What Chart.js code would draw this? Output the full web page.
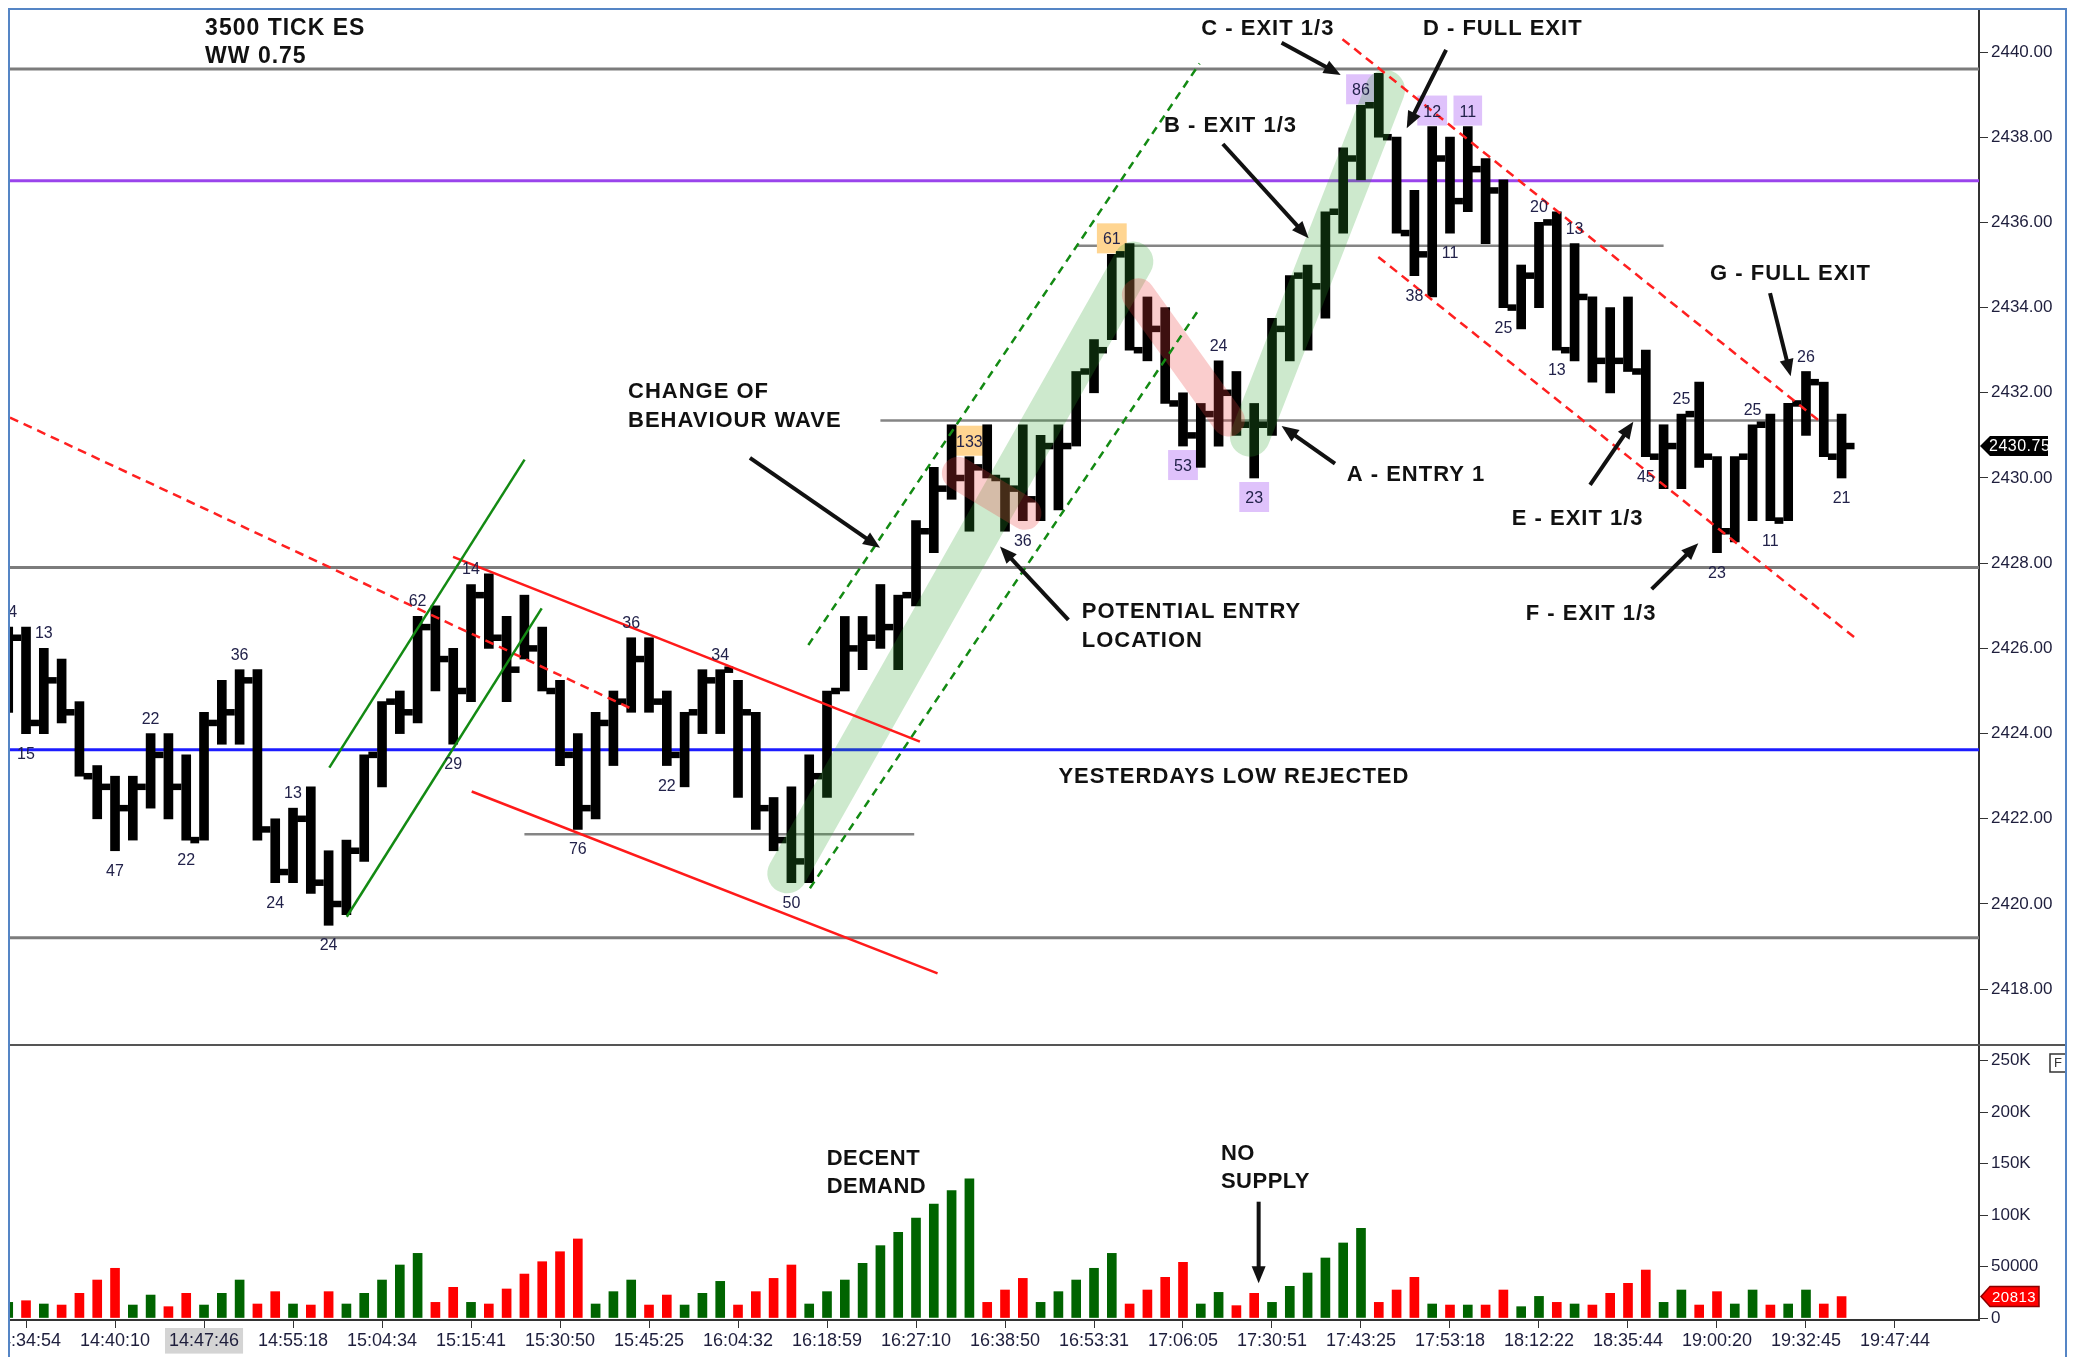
<!DOCTYPE html>
<html>
<head>
<meta charset="utf-8">
<script src="https://cdn.jsdelivr.net/npm/chart.js@4.4.1/dist/chart.umd.min.js"></script>
<style>
html,body{margin:0;padding:0;background:#fff;}
#wrap{width:2082px;height:1357px;position:relative;}
canvas{display:block;}
</style>
</head>
<body>
<div id="wrap"><canvas id="c" width="2082" height="1357"></canvas></div>
<script>
// ---------------- DATA ----------------
const firstBar = -1; // index of the first (partly hidden) bar
const highs = [
 2426.5,2426.5,2426.0,2425.75,2424.75,2423.25,2423.0,2423.0,2424.0,2424.0,
 2423.5,2424.5,2425.25,2425.5,2425.5,2422.0,2422.25,2422.75,2421.25,2421.5,
 2423.5,2424.75,2425.0,2426.75,2427.0,2426.0,2427.5,2427.75,2426.75,2427.25,
 2426.5,2425.25,2424.0,2424.5,2425.0,2426.25,2426.25,2425.0,2424.5,2425.5,
 2425.5,2425.25,2424.5,2422.5,2422.75,2423.5,2425.0,2426.75,2426.75,2427.5,
 2427.25,2429.0,2430.25,2431.25,2430.5,2431.25,2430.0,2431.25,2431.0,2431.25,
 2432.5,2433.25,2435.25,2435.5,2434.25,2434.0,2432.0,2431.75,2432.75,2432.5,
 2431.75,2433.75,2434.75,2435.0,2436.25,2437.75,2438.75,2439.5,2438.0,2436.75,
 2438.25,2438.0,2438.25,2437.5,2437.0,2435.0,2436.0,2436.25,2435.5,2434.25,
 2434.0,2434.25,2433.0,2431.25,2431.5,2432.25,2430.5,2430.5,2431.25,2431.5,
 2431.75,2432.5,2432.25,2431.5];
const lows = [
 2424.5,2424.0,2424.0,2424.25,2423.0,2422.0,2421.25,2421.5,2422.25,2422.0,
 2421.5,2421.5,2423.75,2423.75,2421.5,2420.5,2420.5,2420.25,2419.5,2419.75,
 2421.0,2422.75,2424.0,2424.25,2425.0,2423.75,2424.75,2426.0,2424.75,2425.75,
 2425.0,2423.25,2421.75,2422.0,2423.25,2424.5,2424.5,2423.25,2422.75,2424.0,
 2424.0,2422.5,2421.75,2421.25,2420.5,2420.5,2422.5,2425.0,2425.5,2426.0,
 2425.5,2427.0,2428.25,2429.5,2428.75,2430.0,2428.75,2429.0,2429.0,2429.25,
 2430.75,2432.0,2433.25,2433.0,2432.75,2431.75,2430.75,2430.25,2430.75,2431.0,
 2430.0,2431.0,2432.75,2433.0,2433.75,2435.75,2437.0,2438.0,2435.75,2434.75,
 2434.25,2435.75,2436.25,2435.5,2434.0,2433.5,2434.0,2433.0,2432.75,2432.25,
 2432.0,2432.5,2430.5,2429.75,2429.75,2430.25,2428.25,2428.5,2429.0,2429.0,
 2429.0,2431.0,2430.5,2430.0];
const closes = [
 2426.25,2424.25,2425.25,2424.5,2423.0,2422.75,2422.25,2422.75,2423.5,2422.75,
 2421.5,2424.25,2424.5,2425.25,2421.75,2420.75,2422.0,2420.5,2420.0,2421.25,
 2423.5,2424.75,2424.5,2426.5,2425.75,2425.0,2427.25,2426.25,2425.5,2426.0,
 2425.0,2423.5,2422.25,2424.25,2424.75,2425.75,2424.75,2423.5,2424.5,2425.25,
 2425.5,2424.5,2422.25,2421.5,2421.0,2423.0,2425.0,2426.0,2426.25,2426.5,
 2427.25,2428.75,2429.75,2430.0,2430.25,2430.0,2429.75,2429.5,2430.75,2430.75,
 2432.5,2433.0,2435.25,2433.0,2433.5,2431.75,2431.0,2431.5,2432.0,2431.25,
 2431.25,2433.5,2434.75,2434.5,2436.25,2437.5,2438.75,2438.0,2435.75,2435.25,
 2437.5,2436.5,2437.25,2436.75,2434.0,2434.75,2436.0,2433.0,2434.25,2432.75,
 2432.75,2432.5,2430.5,2430.75,2431.5,2430.5,2428.75,2430.5,2431.25,2429.0,
 2431.75,2432.25,2430.5,2430.75];
const volumes = [
 15200,16800,13600,12600,24000,36900,48300,12600,22300,11000,
 24000,12600,24000,36900,13600,25600,13600,12600,25600,13600,
 24000,36900,51500,62800,15200,29800,15200,13600,28200,42700,
 54700,64400,76800,13600,25600,36900,12600,22300,12600,24000,
 35600,12600,25600,38500,51500,13600,25600,36900,53100,70300,
 83200,97200,110800,123700,135100,15200,27200,38500,15200,25600,
 36900,48300,62800,13600,27200,39500,54100,13600,24900,12000,
 24000,15200,30800,43700,58300,72900,87100,15200,27200,39500,
 13600,12600,12600,12600,27200,11000,21000,15200,13600,12600,
 24000,33700,46600,15200,27200,12600,25600,13600,27200,12600,
 13600,27200,13600,20813];
const volUp = [
 1,0,1,0,0,0,0,1,1,0,
 0,1,1,1,0,0,1,0,0,1,
 1,1,1,1,0,0,1,0,0,0,
 0,0,0,1,1,1,0,0,1,1,
 1,0,0,0,0,1,1,1,1,1,
 1,1,1,1,1,0,0,0,1,1,
 1,1,1,0,0,0,0,1,1,0,
 0,1,1,1,1,1,1,0,0,0,
 1,0,1,0,0,1,1,0,1,0,
 0,0,0,1,1,0,0,1,1,0,
 1,1,0,0];
const timeLabels = ["14:34:54","14:40:10","14:47:46","14:55:18","15:04:34","15:15:41","15:30:50","15:45:25",
 "16:04:32","16:18:59","16:27:10","16:38:50","16:53:31","17:06:05","17:30:51","17:43:25","17:53:18",
 "18:12:22","18:35:44","19:00:20","19:32:45","19:47:44"];
const barsPerTimeTick = 5;
const priceTicks = [2418,2420,2422,2424,2426,2428,2430,2432,2434,2436,2438,2440];
const volumeTicks = [0,50000,100000,150000,200000,250000];
const lastPrice = 2430.75;
const lastVolume = 20813;

// numbers printed above (H) / below (L) some bars
const barLabelBar  = [-1,0,1,5,7,9,12,14,15,17,22,24,25,31,34,36,39,43,53,56,61,65,67,69,75,78,79,80,81,83,85,86,87,91,93,95,97,98,100,102];
const barLabelText = ['24','15','13','47','22','22','36','24','13','24','62','29','14','76','36','22','34','50','133','36','61','53','24','23','86','38','12','11','11','25','20','13','13','45','25','23','25','11','26','21'];
const barLabelSide = ['H','L','H','L','H','L','H','L','H','L','H','L','H','L','H','L','H','L','H','L','H','L','H','L','H','L','H','L','H','L','H','L','H','L','H','L','H','L','H','L'];
const barLabelMark = ['','','','','','','','','','','','','','','','','','','o','','o','p','','p','p','','p','','p','','','','','','','','','','',''];

// horizontal levels (price)
const levelPrices = [2439.6, 2436.98, 2427.9, 2423.62, 2419.21];
const levelKinds  = ['gray','purple','gray','blue','gray'];
const segLevelPrice = [2435.45, 2431.35, 2421.64];
const segLevelFrom  = [59, 48, 28];
const segLevelTo    = [92, 101.8, 49.9];

// ---------------- ANNOTATIONS (in data units) ----------------
const trendLines = [
 {x1:-0.9,  y1:2431.42, x2:33.93,  y2:2424.6,  kind:'redDash'},
 {x1:73.96, y1:2440.3,  x2:100.69, y2:2431.36, kind:'redDash'},
 {x1:75.97, y1:2435.19, x2:102.84, y2:2426.22, kind:'redDash'},
 {x1:23.99, y1:2428.15, x2:50.22,  y2:2423.81, kind:'red'},
 {x1:25.04, y1:2422.64, x2:51.21,  y2:2418.37, kind:'red'},
 {x1:17.04, y1:2423.2,  x2:28.01,  y2:2430.43, kind:'green'},
 {x1:18.02, y1:2419.7,  x2:28.97,  y2:2426.94, kind:'green'},
 {x1:43.95, y1:2426.08, x2:65.93,  y2:2439.73, kind:'greenDash'},
 {x1:44.04, y1:2420.37, x2:65.93,  y2:2433.98, kind:'greenDash'}
];
const bands = [
 {x1:42.77, y1:2420.72, x2:62.21, y2:2435.08, kind:'g'},
 {x1:68.76, y1:2430.97, x2:76.35, y2:2439.11, kind:'g'},
 {x1:52.38, y1:2430.11, x2:56.12, y2:2429.17, kind:'r'},
 {x1:62.49, y1:2434.3,  x2:67.55, y2:2431.36, kind:'r'}
];
const notes = [
 {t:'3500 TICK ES', x:10.06, y:2440.40, size:23},
 {t:'WW 0.75', x:10.06, y:2439.74, size:23},
 {t:'C - EXIT 1/3', x:66.03, y:2440.40, size:22},
 {t:'D - FULL EXIT', x:78.48, y:2440.40, size:22},
 {t:'B - EXIT 1/3', x:63.93, y:2438.13, size:22},
 {t:'CHANGE OF', x:33.82, y:2431.88, size:22},
 {t:'BEHAVIOUR WAVE', x:33.82, y:2431.20, size:22},
 {t:'POTENTIAL ENTRY', x:59.31, y:2426.71, size:22},
 {t:'LOCATION', x:59.31, y:2426.04, size:22},
 {t:'A - ENTRY 1', x:74.2, y:2429.94, size:22},
 {t:'E - EXIT 1/3', x:83.47, y:2428.90, size:22},
 {t:'F - EXIT 1/3', x:84.26, y:2426.67, size:22},
 {t:'G - FULL EXIT', x:94.61, y:2434.65, size:22},
 {t:'YESTERDAYS LOW REJECTED', x:58.0, y:2422.84, size:22}
];
const volNotes = [
 {t:'DECENT', x:44.98, v:148700},
 {t:'DEMAND', x:44.98, v:121500},
 {t:'NO', x:67.13, v:153500},
 {t:'SUPPLY', x:67.13, v:126300}
];
const arrows = [
 {x1:70.54, y1:2440.22, x2:73.86, y2:2439.46},
 {x1:79.78, y1:2440.05, x2:77.57, y2:2438.21},
 {x1:67.24, y1:2437.84, x2:72.06, y2:2435.63},
 {x1:40.67, y1:2430.47, x2:47.98, y2:2428.36},
 {x1:58.56, y1:2426.67, x2:54.72, y2:2428.39},
 {x1:73.54, y1:2430.34, x2:70.54, y2:2431.22},
 {x1:87.87, y1:2429.84, x2:90.30, y2:2431.32},
 {x1:91.33, y1:2427.39, x2:93.95, y2:2428.47},
 {x1:97.98, y1:2434.34, x2:99.14, y2:2432.39}
];
const volArrows = [ {x1:69.25, v1:113000, x2:69.25, v2:33700} ];

// ---------------- STYLES ----------------
const FONT = 'Arial, "Liberation Sans", sans-serif';
const levelStyle = {
 gray:{color:'#7c7c7c', width:3}, purple:{color:'#9a44ec', width:3}, blue:{color:'#1c1cff', width:3}
};
const lineStyle = {
 redDash:{color:'#ff2020', width:2.5, dash:[9,6]},
 red:{color:'#ff1a1a', width:2.5, dash:[]},
 green:{color:'#138a13', width:2.5, dash:[]},
 greenDash:{color:'#138a13', width:2.5, dash:[8,6]}
};
const bandStyle = { g:{color:'rgba(46,162,46,0.24)', width:40}, r:{color:'rgba(235,60,60,0.26)', width:33} };
const markColor = { o:'#ffd591', p:'#dfc2fb' };

// ---------------- DATASETS ----------------
const barX = highs.map((_, i) => i + firstBar);
const rangeData = barX.map((k, i) => ({x:k, y:[lows[i], highs[i]]}));
const closeTickOffset = 0.48; // close tick sits to the right of the bar
const closeData = barX.map((k, i) => ({x:k + closeTickOffset, y:closes[i]}));
const volData = barX.map((k, i) => ({x:k, y:volumes[i]}));

function labelGeom(ctx, xs, ys, j) {
  const k = barLabelBar[j], i = k - firstBar;
  const px = xs.getPixelForValue(k);
  const base = barLabelSide[j] === 'H' ? ys.getPixelForValue(highs[i]) - 10 : ys.getPixelForValue(lows[i]) + 25;
  ctx.font = '16px ' + FONT;
  const w = ctx.measureText(barLabelText[j]).width;
  return {px, base, w};
}
function arrow(ctx, x1, y1, x2, y2) {
  const a = Math.atan2(y2 - y1, x2 - x1), L = 17, W = 7;
  ctx.beginPath(); ctx.moveTo(x1, y1); ctx.lineTo(x2 - (L - 3) * Math.cos(a), y2 - (L - 3) * Math.sin(a)); ctx.stroke();
  ctx.beginPath(); ctx.moveTo(x2, y2);
  ctx.lineTo(x2 - L * Math.cos(a) + W * Math.sin(a), y2 - L * Math.sin(a) - W * Math.cos(a));
  ctx.lineTo(x2 - L * Math.cos(a) - W * Math.sin(a), y2 - L * Math.sin(a) + W * Math.cos(a));
  ctx.closePath(); ctx.fill();
}

const overlay = {
  id: 'overlay',
  beforeDatasetsDraw(chart) {
    const {ctx, chartArea} = chart; const xs = chart.scales.x, ys = chart.scales.y;
    ctx.save();
    levelPrices.forEach((p, i) => {
      const st = levelStyle[levelKinds[i]]; const y = ys.getPixelForValue(p);
      ctx.strokeStyle = st.color; ctx.lineWidth = st.width;
      ctx.beginPath(); ctx.moveTo(chartArea.left, y); ctx.lineTo(chartArea.right, y); ctx.stroke();
    });
    segLevelPrice.forEach((p, i) => {
      const y = ys.getPixelForValue(p);
      ctx.strokeStyle = '#858585'; ctx.lineWidth = 2.5;
      ctx.beginPath(); ctx.moveTo(xs.getPixelForValue(segLevelFrom[i]), y); ctx.lineTo(xs.getPixelForValue(segLevelTo[i]), y); ctx.stroke();
    });
    barLabelMark.forEach((m, j) => {
      if (!m) return;
      const g = labelGeom(ctx, xs, ys, j);
      ctx.fillStyle = markColor[m];
      ctx.fillRect(g.px - g.w / 2 - 6, g.base - 21, g.w + 12, 30);
    });
    ctx.restore();
  },
  afterDatasetsDraw(chart) {
    const {ctx, chartArea} = chart; const xs = chart.scales.x, ys = chart.scales.y, vs = chart.scales.yv;
    ctx.save();
    ctx.beginPath(); ctx.rect(chartArea.left, ys.top, chartArea.right - chartArea.left, ys.bottom - ys.top); ctx.clip();
    bands.forEach(b => {
      const st = bandStyle[b.kind];
      ctx.strokeStyle = st.color; ctx.lineWidth = st.width; ctx.lineCap = 'round';
      ctx.beginPath(); ctx.moveTo(xs.getPixelForValue(b.x1), ys.getPixelForValue(b.y1));
      ctx.lineTo(xs.getPixelForValue(b.x2), ys.getPixelForValue(b.y2)); ctx.stroke();
    });
    ctx.lineCap = 'butt';
    trendLines.forEach(l => {
      const st = lineStyle[l.kind];
      ctx.strokeStyle = st.color; ctx.lineWidth = st.width; ctx.setLineDash(st.dash);
      ctx.beginPath(); ctx.moveTo(xs.getPixelForValue(l.x1), ys.getPixelForValue(l.y1));
      ctx.lineTo(xs.getPixelForValue(l.x2), ys.getPixelForValue(l.y2)); ctx.stroke();
    });
    ctx.setLineDash([]);
    // bar numbers
    ctx.textAlign = 'center'; ctx.textBaseline = 'alphabetic';
    barLabelText.forEach((t, j) => {
      const g = labelGeom(ctx, xs, ys, j);
      ctx.fillStyle = '#22224a'; ctx.fillText(t, g.px, g.base);
    });
    // notes
    ctx.fillStyle = '#111'; ctx.textAlign = 'left';
    ctx.letterSpacing = '1px';
    notes.forEach(n => { ctx.font = 'bold ' + n.size + 'px ' + FONT; ctx.fillText(n.t, xs.getPixelForValue(n.x), ys.getPixelForValue(n.y)); });
    ctx.letterSpacing = '0px';
    ctx.strokeStyle = '#111'; ctx.lineWidth = 4;
    arrows.forEach(a => arrow(ctx, xs.getPixelForValue(a.x1), ys.getPixelForValue(a.y1), xs.getPixelForValue(a.x2), ys.getPixelForValue(a.y2)));
    ctx.restore();
    // volume panel notes
    ctx.save();
    ctx.fillStyle = '#111'; ctx.textAlign = 'left'; ctx.font = 'bold 22px ' + FONT;
    ctx.letterSpacing = '0.5px';
    volNotes.forEach(n => ctx.fillText(n.t, xs.getPixelForValue(n.x), vs.getPixelForValue(n.v)));
    ctx.letterSpacing = '0px';
    ctx.strokeStyle = '#111'; ctx.lineWidth = 4;
    volArrows.forEach(a => arrow(ctx, xs.getPixelForValue(a.x1), vs.getPixelForValue(a.v1), xs.getPixelForValue(a.x2), vs.getPixelForValue(a.v2)));
    ctx.restore();
  },
  afterDraw(chart) {
    const {ctx, chartArea} = chart; const ys = chart.scales.y, vs = chart.scales.yv;
    ctx.save();
    // panel separator
    ctx.strokeStyle = '#555'; ctx.lineWidth = 2;
    ctx.beginPath(); ctx.moveTo(chartArea.left, ys.bottom); ctx.lineTo(2066, ys.bottom); ctx.stroke();
    // last price tag
    const ax = ys.left;
    let py = ys.getPixelForValue(lastPrice);
    ctx.fillStyle = '#000';
    ctx.beginPath(); ctx.moveTo(ax + 1, py); ctx.lineTo(ax + 11, py - 10); ctx.lineTo(ax + 69, py - 10); ctx.lineTo(ax + 69, py + 10); ctx.lineTo(ax + 11, py + 10); ctx.closePath(); ctx.fill();
    ctx.fillStyle = '#fff'; ctx.font = '16px ' + FONT; ctx.textBaseline = 'middle'; ctx.textAlign = 'left';
    ctx.letterSpacing = '0.5px';
    ctx.fillText(lastPrice.toFixed(2), ax + 10, py + 1);
    // last volume tag
    const vy = vs.getPixelForValue(lastVolume);
    ctx.fillStyle = '#ff0000'; ctx.strokeStyle = '#8a0000'; ctx.lineWidth = 1.5;
    ctx.beginPath(); ctx.moveTo(ax + 2, vy); ctx.lineTo(ax + 11, vy - 10); ctx.lineTo(ax + 60, vy - 10); ctx.lineTo(ax + 60, vy + 10); ctx.lineTo(ax + 11, vy + 10); ctx.closePath(); ctx.fill(); ctx.stroke();
    ctx.fillStyle = '#fff'; ctx.font = '15px ' + FONT;
    ctx.fillText(String(lastVolume), ax + 13, vy + 1);
    ctx.letterSpacing = '0px';
    // small panel button
    ctx.strokeStyle = '#333'; ctx.lineWidth = 1.5; ctx.strokeRect(2050, vs.top + 9, 16, 18);
    ctx.fillStyle = '#333'; ctx.font = '13px ' + FONT; ctx.fillText('F', 2054, vs.top + 18);
    // outer frame
    ctx.fillStyle = '#fff'; ctx.fillRect(0, 0, chartArea.left - 1, 1357); ctx.fillRect(2067, 0, 15, 1357); ctx.fillRect(0, 0, 2082, chartArea.top - 1);
    ctx.strokeStyle = '#5585c5'; ctx.lineWidth = 2;
    ctx.beginPath(); ctx.moveTo(chartArea.left - 1, 1357); ctx.lineTo(chartArea.left - 1, chartArea.top - 1); ctx.lineTo(2066, chartArea.top - 1); ctx.lineTo(2066, 1357); ctx.stroke();
    ctx.restore();
  }
};

const axisFont = {family: FONT, size: 17};
new Chart(document.getElementById('c'), {
  type: 'bar',
  data: {
    datasets: [
      {type:'scatter', label:'Close', data:closeData, xAxisID:'x', yAxisID:'y', pointStyle:'line',
       pointRadius:4.4, pointHoverRadius:4.4, pointBorderWidth:6.5, pointBorderColor:'#000', pointBackgroundColor:'#000', showLine:false},
      {type:'bar', label:'Range', data:rangeData, xAxisID:'x', yAxisID:'y', backgroundColor:'#000', borderWidth:0, barThickness:9, grouped:false},
      {type:'bar', label:'Volume', data:volData, xAxisID:'x', yAxisID:'yv', backgroundColor:volUp.map(u => u ? '#006400' : '#ff0000'), borderWidth:0, barThickness:9, grouped:false}
    ]
  },
  options: {
    responsive:false, animation:false, devicePixelRatio:1, events:[],
    layout:{padding:{left:10, top:10, right:0, bottom:0}, autoPadding:false},
    plugins:{legend:{display:false}, tooltip:{enabled:false}, title:{display:false}},
    scales:{
      x:{
        type:'linear', min:-0.9, max:109.72, offset:false,
        grid:{display:true, drawOnChartArea:false, drawTicks:true, tickLength:8, color:'#333', offset:false},
        border:{display:true, color:'#333', width:2},
        afterBuildTicks: s => { s.ticks = timeLabels.map((_, i) => ({value: i * barsPerTimeTick})); },
        afterFit: s => { s.height = 37; s.paddingLeft = 0; s.paddingRight = 0; },
        ticks:{autoSkip:false, maxRotation:0, minRotation:0, padding:2, color:'#1e1e3c',
          font:{family:'"Liberation Sans Narrow", "Arial Narrow", Arial, sans-serif', size:18},
          callback:(v, i) => timeLabels[i],
          showLabelBackdrop: c => c.index === 2, backdropColor:'#d4d4d4', backdropPadding:{x:4, y:2}}
      },
      y:{
        type:'linear', position:'right', stack:'panels', stackWeight:1035, min:2416.69, max:2440.986,
        grid:{display:true, drawOnChartArea:false, drawTicks:true, tickLength:9, color:'#333'},
        border:{display:true, color:'#333', width:2},
        afterBuildTicks: s => { s.ticks = priceTicks.map(v => ({value:v})); },
        afterFit: s => { s.width = 103; s.paddingTop = 0; s.paddingBottom = 0; },
        ticks:{autoSkip:false, padding:3, color:'#1e1e3c', font:axisFont, callback: v => Number(v).toFixed(2)}
      },
      yv:{
        type:'linear', position:'right', stack:'panels', stackWeight:275, min:-1940, max:265250,
        grid:{display:true, drawOnChartArea:false, drawTicks:true, tickLength:9, color:'#333'},
        border:{display:true, color:'#333', width:2},
        afterBuildTicks: s => { s.ticks = volumeTicks.map(v => ({value:v})); },
        afterFit: s => { s.width = 103; s.paddingTop = 0; s.paddingBottom = 0; },
        ticks:{autoSkip:false, padding:3, color:'#1e1e3c', font:axisFont,
          callback: v => v >= 100000 ? (v / 1000) + 'K' : String(v)}
      }
    }
  },
  plugins:[overlay]
});
</script>
</body>
</html>
